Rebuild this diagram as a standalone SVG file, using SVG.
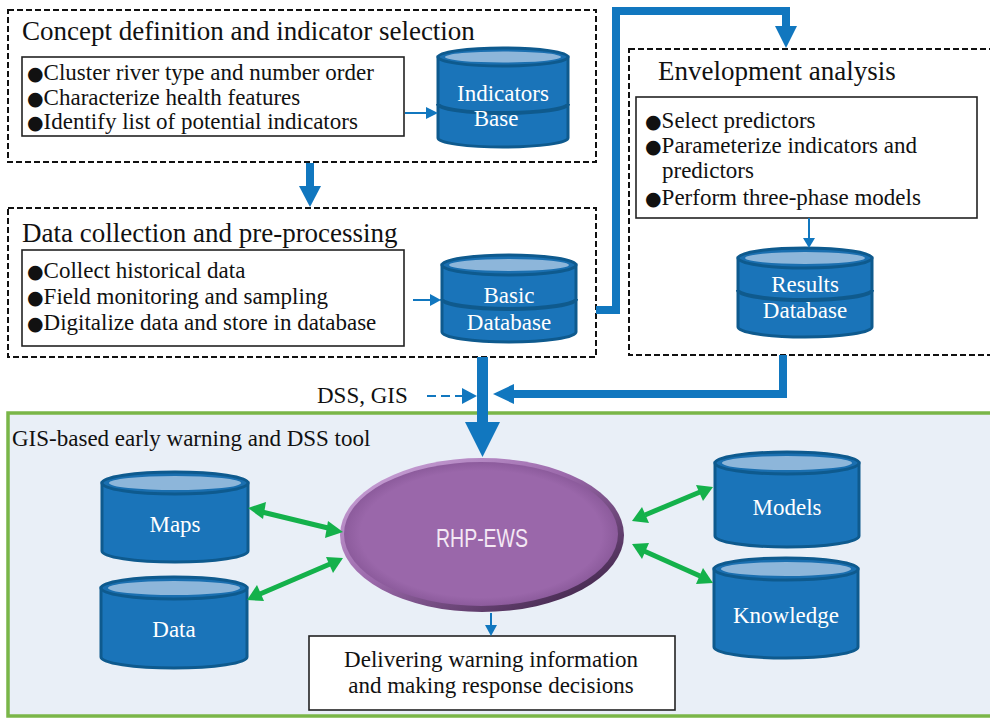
<svg xmlns="http://www.w3.org/2000/svg" width="990" height="718" viewBox="0 0 990 718">
  <style>
    .frame { fill: none; stroke: #111; stroke-width: 2; stroke-dasharray: 6 3; }
    .inner { fill: #fff; stroke: #222; stroke-width: 1.6; }
    .title { font-family: "Liberation Serif", "Times New Roman", serif; font-size: 27px; fill: #111; }
    .body { font-family: "Liberation Serif", "Times New Roman", serif; font-size: 23px; fill: #111; }
    .dot { font-family: "DejaVu Sans", sans-serif; font-size: 19px; }
    .dbtxt { font-family: "Liberation Serif", "Times New Roman", serif; font-size: 23px; fill: #fff; text-anchor: middle; }
    .cylbody { fill: #1A74B9; stroke: #0E5A8E; stroke-width: 3; }
    .cyltop { fill: #1A6FB0; stroke: #0E5A8E; stroke-width: 3; }
    .cylcap { fill: #8DB6DA; }
    .band { fill: none; stroke: #0F5A8D; stroke-width: 4; }
    .thin { fill: none; stroke: #1177BF; stroke-width: 2; }
    .thick { fill: none; stroke: #1177BF; stroke-width: 8; }
    .head { fill: #1177BF; }
    .green { fill: none; stroke: #14B14B; stroke-width: 5; }
    .ghead { fill: #14B14B; }
  </style>
  <defs>
    <linearGradient id="rimGrad" x1="0" y1="0" x2="1" y2="1">
      <stop offset="0" stop-color="#D3AEE0"/>
      <stop offset="0.45" stop-color="#9B69AB"/>
      <stop offset="1" stop-color="#2E1836"/>
    </linearGradient>
    <radialGradient id="faceGrad" cx="0.5" cy="0.5" r="0.5">
      <stop offset="0" stop-color="#9A67AA"/>
      <stop offset="0.88" stop-color="#9A67AA"/>
      <stop offset="1" stop-color="#8C5B9C"/>
    </radialGradient>
  </defs>

  <rect width="990" height="718" fill="#fff"/>

  <!-- Stage 1: concept definition -->
  <g id="concept">
    <rect class="frame" x="8" y="10" width="588" height="152"/>
    <text class="title" x="22" y="40">Concept definition and indicator selection</text>
    <rect class="inner" x="22" y="57" width="382" height="79"/>
    <text class="body" x="27" y="80"><tspan class="dot">●</tspan>Cluster river type and number order</text>
    <text class="body" x="27" y="105"><tspan class="dot">●</tspan>Characterize health features</text>
    <text class="body" x="27" y="129"><tspan class="dot">●</tspan>Identify list of potential indicators</text>
  </g>

  <g id="indicators-base">
    <path class="cylbody" d="M438,57 V138 A65,9 0 0 0 568,138 V57 Z"/>
    <ellipse class="cyltop" cx="503" cy="57" rx="65" ry="9"/>
    <ellipse class="cylcap" cx="503" cy="57" rx="58" ry="5.5"/>
    <path class="band" d="M438,104 A65,9 0 0 0 568,104"/>
    <text class="dbtxt" x="503" y="101">Indicators</text>
    <text class="dbtxt" x="496" y="126">Base</text>
  </g>

  <!-- Stage 2: data collection -->
  <g id="data-collection">
    <rect class="frame" x="8" y="208" width="588" height="149"/>
    <text class="title" x="22" y="242">Data collection and pre-processing</text>
    <rect class="inner" x="22" y="250" width="382" height="96"/>
    <text class="body" x="27" y="278"><tspan class="dot">●</tspan>Collect historical data</text>
    <text class="body" x="27" y="304"><tspan class="dot">●</tspan>Field monitoring and sampling</text>
    <text class="body" x="27" y="330"><tspan class="dot">●</tspan>Digitalize data and store in database</text>
  </g>

  <g id="basic-database">
    <path class="cylbody" d="M442,265 V332 A67,10 0 0 0 576,332 V265 Z"/>
    <ellipse class="cyltop" cx="509" cy="265" rx="67" ry="10"/>
    <ellipse class="cylcap" cx="509" cy="265" rx="60" ry="6"/>
    <path class="band" d="M442,299 A67,10 0 0 0 576,299"/>
    <text class="dbtxt" x="509" y="303">Basic</text>
    <text class="dbtxt" x="509" y="330">Database</text>
  </g>

  <!-- Stage 3: envelopment analysis -->
  <g id="envelopment">
    <rect class="frame" x="629" y="49" width="380" height="306"/>
    <text class="title" x="658" y="80">Envelopment analysis</text>
    <rect class="inner" x="636" y="97" width="341" height="121"/>
    <text class="body" x="645" y="128"><tspan class="dot">●</tspan>Select predictors</text>
    <text class="body" x="645" y="153"><tspan class="dot">●</tspan>Parameterize indicators and</text>
    <text class="body" x="662" y="178">predictors</text>
    <text class="body" x="645" y="205"><tspan class="dot">●</tspan>Perform three-phase models</text>
  </g>

  <g id="results-database">
    <path class="cylbody" d="M738,258 V327 A67,10 0 0 0 872,327 V258 Z"/>
    <ellipse class="cyltop" cx="805" cy="258" rx="67" ry="10"/>
    <ellipse class="cylcap" cx="805" cy="258" rx="60" ry="6"/>
    <path class="band" d="M738,290 A67,10 0 0 0 872,290"/>
    <text class="dbtxt" x="805" y="292">Results</text>
    <text class="dbtxt" x="805" y="318">Database</text>
  </g>

  <!-- Stage 4: GIS-based tool -->
  <g id="gis-tool">
    <rect x="8" y="413" width="1000" height="303" fill="#E9EFF7" stroke="#7AB648" stroke-width="3.5"/>
    <text class="body" x="12" y="446">GIS-based early warning and DSS tool</text>
  </g>

  <g id="maps">
    <path class="cylbody" d="M102,483 V551 A73,11 0 0 0 248,551 V483 Z"/>
    <ellipse class="cyltop" cx="175" cy="483" rx="73" ry="11"/>
    <ellipse class="cylcap" cx="175" cy="483" rx="66" ry="7"/>
    <text class="dbtxt" x="175" y="532">Maps</text>
  </g>

  <g id="data">
    <path class="cylbody" d="M101,588 V657 A73,11 0 0 0 247,657 V588 Z"/>
    <ellipse class="cyltop" cx="174" cy="588" rx="73" ry="11"/>
    <ellipse class="cylcap" cx="174" cy="588" rx="66" ry="7"/>
    <text class="dbtxt" x="174" y="637">Data</text>
  </g>

  <g id="models">
    <path class="cylbody" d="M715,463 V536 A72,11 0 0 0 859,536 V463 Z"/>
    <ellipse class="cyltop" cx="787" cy="463" rx="72" ry="11"/>
    <ellipse class="cylcap" cx="787" cy="463" rx="65" ry="7"/>
    <text class="dbtxt" x="787" y="515">Models</text>
  </g>

  <g id="knowledge">
    <path class="cylbody" d="M714,569 V647 A72,11 0 0 0 858,647 V569 Z"/>
    <ellipse class="cyltop" cx="786" cy="569" rx="72" ry="11"/>
    <ellipse class="cylcap" cx="786" cy="569" rx="65" ry="7"/>
    <text class="dbtxt" x="786" y="623">Knowledge</text>
  </g>

  <g id="rhp-ews">
    <ellipse cx="482" cy="535" rx="142" ry="77" fill="url(#rimGrad)"/>
    <ellipse cx="481" cy="534" rx="137" ry="72" fill="url(#faceGrad)"/>
    <text x="482" y="547" font-family="Liberation Sans, Arial, sans-serif" font-size="25" fill="#F4E8F4" text-anchor="middle" textLength="92" lengthAdjust="spacingAndGlyphs">RHP-EWS</text>
  </g>

  <g id="delivering">
    <rect class="inner" x="309" y="636" width="366" height="74"/>
    <text class="body" x="491" y="667" text-anchor="middle">Delivering warning information</text>
    <text class="body" x="491" y="693" text-anchor="middle">and making response decisions</text>
  </g>

  <text class="body" x="317" y="403">DSS, GIS</text>

  <!-- Connectors -->
  <g id="connectors">
    <!-- indicator list to indicators base -->
    <line class="thin" x1="405" y1="113" x2="428" y2="113"/>
    <polygon class="head" points="426,107 438,113 426,119"/>
    <!-- stage 1 to stage 2 -->
    <line class="thick" x1="310" y1="163" x2="310" y2="188"/>
    <polygon class="head" points="299,186 321,186 310,207"/>
    <!-- data list to basic database -->
    <line class="thin" x1="413" y1="300" x2="432" y2="300"/>
    <polygon class="head" points="430,294 441,300 430,306"/>
    <!-- basic database to envelopment analysis -->
    <polyline class="thick" points="596,310 616,310 616,11 786,11 786,28"/>
    <polygon class="head" points="775,26 797,26 786,48"/>
    <!-- envelopment list to results database -->
    <line class="thin" x1="809" y1="218" x2="809" y2="240"/>
    <polygon class="head" points="803,238 815,238 809,248"/>
    <!-- results back to the tool -->
    <polyline class="thick" points="783,355 783,394 512,394"/>
    <polygon class="head" points="514,384 514,404 493,394"/>
    <!-- basic database down into RHP-EWS -->
    <line x1="482.5" y1="357" x2="482.5" y2="424" stroke="#1177BF" stroke-width="11"/>
    <polygon class="head" points="465,422 500,422 482.5,457"/>
    <!-- DSS, GIS dashed input -->
    <line class="thin" x1="427" y1="396" x2="463" y2="396" stroke-dasharray="9 5"/>
    <polygon class="head" points="462,388 462,404 477,396"/>
    <!-- two-way links with the data stores -->
    <line class="green" x1="262" y1="512" x2="328" y2="528"/>
    <polygon class="ghead" points="248,508 266,502 263,519"/>
    <polygon class="ghead" points="343,532 325,538 328,521"/>
    <line class="green" x1="260" y1="594" x2="330" y2="564"/>
    <polygon class="ghead" points="247,600 257,585 264,601"/>
    <polygon class="ghead" points="343,558 333,573 326,557"/>
    <line class="green" x1="700" y1="492" x2="645" y2="515"/>
    <polygon class="ghead" points="713,487 703,501 696,485"/>
    <polygon class="ghead" points="632,521 642,507 649,523"/>
    <line class="green" x1="700" y1="576" x2="644" y2="551"/>
    <polygon class="ghead" points="713,583 696,584 703,568"/>
    <polygon class="ghead" points="632,544 649,543 642,559"/>
    <!-- RHP-EWS to delivering box -->
    <line class="thin" x1="491" y1="613" x2="491" y2="627"/>
    <polygon class="head" points="485,625 497,625 491,636"/>
  </g>
</svg>
